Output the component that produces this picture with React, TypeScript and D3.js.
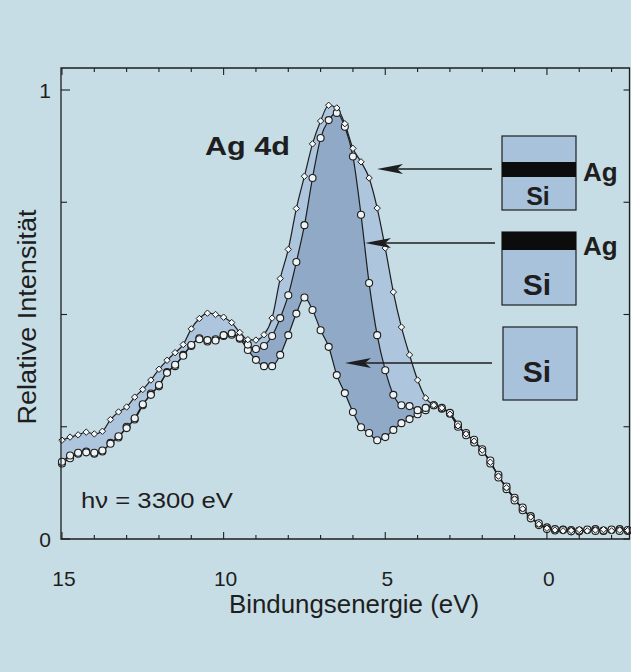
import React from 'react';
import * as d3 from 'd3';

// Binding energies (eV) of the sampled points
const energies = [
  15, 14.75, 14.5, 14.25, 14, 13.75, 13.5, 13.25, 13, 12.75, 12.5, 12.25, 12, 11.75, 11.5, 11.25,
  11, 10.75, 10.5, 10.25, 10, 9.75, 9.5, 9.25, 9, 8.75, 8.5, 8.25, 8, 7.75, 7.5, 7.25,
  7, 6.75, 6.5, 6.25, 6, 5.75, 5.5, 5.25, 5, 4.75, 4.5, 4.25, 4, 3.75, 3.5, 3.25,
  3, 2.75, 2.5, 2.25, 2, 1.75, 1.5, 1.25, 1, 0.75, 0.5, 0.25, 0, -0.25, -0.5, -0.75,
  -1, -1.25, -1.5, -1.75, -2, -2.25, -2.5,
];

// Ag buried under a cap layer (outer curve, diamonds)
const cappedAg = [
  0.220, 0.227, 0.232, 0.238, 0.234, 0.240, 0.266, 0.283, 0.294, 0.316, 0.333, 0.354, 0.378, 0.398, 0.415, 0.433,
  0.468, 0.491, 0.503, 0.500, 0.494, 0.482, 0.460, 0.444, 0.443, 0.455, 0.492, 0.580, 0.645, 0.736, 0.808, 0.880,
  0.931, 0.966, 0.960, 0.925, 0.870, 0.840, 0.804, 0.737, 0.648, 0.550, 0.472, 0.410, 0.354, 0.314, 0.298, 0.292,
  0.278, 0.252, 0.234, 0.218, 0.198, 0.171, 0.140, 0.114, 0.089, 0.067, 0.049, 0.033, 0.024, 0.020, 0.018, 0.019,
  0.021, 0.018, 0.020, 0.021, 0.018, 0.020, 0.019,
];

// Ag on top of Si (middle curve)
const surfaceAg = [
  0.172, 0.186, 0.192, 0.193, 0.192, 0.197, 0.212, 0.229, 0.247, 0.269, 0.300, 0.321, 0.343, 0.370, 0.388, 0.408,
  0.432, 0.445, 0.443, 0.442, 0.454, 0.458, 0.448, 0.433, 0.423, 0.430, 0.452, 0.492, 0.543, 0.617, 0.699, 0.804,
  0.893, 0.933, 0.949, 0.918, 0.852, 0.722, 0.570, 0.454, 0.376, 0.321, 0.298, 0.296, 0.287, 0.292, 0.298, 0.292,
  0.281, 0.255, 0.231, 0.221, 0.194, 0.175, 0.137, 0.117, 0.086, 0.070, 0.046, 0.035, 0.022, 0.022, 0.020, 0.017,
  0.019, 0.021, 0.018, 0.019, 0.021, 0.018, 0.020,
];

// Clean Si (lowest curve)
const silicon = [
  0.168, 0.180, 0.190, 0.195, 0.190, 0.195, 0.214, 0.226, 0.250, 0.266, 0.298, 0.324, 0.340, 0.372, 0.385, 0.410,
  0.430, 0.447, 0.440, 0.445, 0.452, 0.455, 0.446, 0.421, 0.399, 0.385, 0.385, 0.410, 0.454, 0.502, 0.538, 0.510,
  0.465, 0.428, 0.365, 0.325, 0.283, 0.249, 0.236, 0.220, 0.227, 0.243, 0.258, 0.267, 0.278, 0.287, 0.298, 0.290,
  0.279, 0.250, 0.236, 0.215, 0.200, 0.168, 0.143, 0.111, 0.092, 0.064, 0.051, 0.031, 0.026, 0.019, 0.021, 0.020,
  0.017, 0.020, 0.022, 0.018, 0.020, 0.022, 0.018,
];

const xMajorTicks = [15, 10, 5, 0];
const xTickLabels = ['15', '10', '5', '0'];
const yMajorTicks = [0, 1];
const yTickLabels = ['0', '1'];
const yMinorTicks = [0.25, 0.5, 0.75];

const FONT = '"Liberation Sans", Arial, Helvetica, sans-serif';
const BG = '#c6dde5';
const LIGHT = '#adc6dd';
const DARK = '#8fa9c7';
const BOX = '#a8c2dc';
const INK = '#1e1e1e';

export default function App() {
  const W = 631, H = 672;
  const left = 61, right = 630, top = 68, bottom = 539;
  const x = d3.scaleLinear().domain([15.03, -2.57]).range([left, right]);
  const y = d3.scaleLinear().domain([0, 1]).range([bottom, 90]);

  const idx = energies.map((_, i) => i);
  const line = (vals: number[]) =>
    d3.line<number>().x(i => x(energies[i])).y(i => y(vals[i])).curve(d3.curveMonotoneX)(idx) || '';
  const band = (hi: number[], lo: number[]) =>
    d3.area<number>().x(i => x(energies[i])).y0(i => y(lo[i])).y1(i => y(hi[i])).curve(d3.curveMonotoneX)(idx) || '';

  const minorX = d3.range(-2, 16, 1);

  const arrow = (yy: number, tipX: number, endX: number) => (
    <g>
      <line x1={tipX + 10} x2={endX} y1={yy} y2={yy} stroke={INK} strokeWidth={1.3} />
      <path d={`M${tipX},${yy} L${tipX + 26},${yy - 5} L${tipX + 20},${yy} L${tipX + 26},${yy + 5} Z`} fill={INK} />
    </g>
  );

  return (
    <svg width={W} height={H} style={{ position: 'absolute', left: 0, top: 0 }} fontFamily={FONT}>
      <rect x={0} y={0} width={W} height={H} fill={BG} />

      {/* filled bands */}
      <path d={band(cappedAg, surfaceAg)} fill={LIGHT} />
      <path d={band(surfaceAg, silicon)} fill={DARK} />

      {/* lines */}
      <path d={line(cappedAg)} fill="none" stroke={INK} strokeWidth={1.2} />
      <path d={line(surfaceAg)} fill="none" stroke={INK} strokeWidth={1.2} />
      <path d={line(silicon)} fill="none" stroke={INK} strokeWidth={1.2} />

      {/* markers */}
      {silicon.map((v, i) => (
        <circle key={'c' + i} cx={x(energies[i])} cy={y(v)} r={3.5} fill="#eef4f5" stroke={INK} strokeWidth={1.1} />
      ))}
      {surfaceAg.map((v, i) => (
        <circle key={'b' + i} cx={x(energies[i])} cy={y(v)} r={3.5} fill="#eef4f5" stroke={INK} strokeWidth={1.1} />
      ))}
      {cappedAg.map((v, i) => {
        const cx = x(energies[i]), cy = y(v), s = 3.2;
        return (
          <path key={'a' + i} d={`M${cx},${cy - s} L${cx + s},${cy} L${cx},${cy + s} L${cx - s},${cy} Z`}
            fill="#f4f8f8" stroke={INK} strokeWidth={1} />
        );
      })}

      {/* frame */}
      <path d={`M${left},${bottom} L${left},${top} L${right - 0.5},${top} L${right - 0.5},${bottom} Z`}
        fill="none" stroke={INK} strokeWidth={1.3} />
      {minorX.map(e => {
        const major = xMajorTicks.includes(e);
        return (
          <g key={'t' + e}>
            <line x1={x(e)} x2={x(e)} y1={bottom} y2={bottom - (major ? 7 : 4)} stroke={INK} strokeWidth={1.1} />
            <line x1={x(e)} x2={x(e)} y1={top} y2={top + (major ? 7 : 4)} stroke={INK} strokeWidth={1.1} />
          </g>
        );
      })}
      {yMajorTicks.concat(yMinorTicks).map(v => (
        <g key={'y' + v}>
          <line x1={left} x2={left + (yMajorTicks.includes(v) ? 9 : 6)} y1={y(v)} y2={y(v)} stroke={INK} strokeWidth={1.1} />
          <line x1={right - 0.5} x2={right - 0.5 - 6} y1={y(v)} y2={y(v)} stroke={INK} strokeWidth={1.1} />
        </g>
      ))}

      {/* tick labels */}
      {xMajorTicks.map((e, i) => (
        <text key={'xl' + e} x={x(e) + 2} y={586} fontSize={21} textAnchor="middle" fill={INK}>{xTickLabels[i]}</text>
      ))}
      {yMajorTicks.map((v, i) => (
        <text key={'yl' + v} x={51} y={y(v) + 7.5} fontSize={21} textAnchor="end" fill={INK}>{yTickLabels[i]}</text>
      ))}

      {/* axis titles */}
      <text x={354} y={613} fontSize={25} textAnchor="middle" fill={INK} textLength={250} lengthAdjust="spacingAndGlyphs">Bindungsenergie (eV)</text>
      <text transform="translate(36,317) rotate(-90)" fontSize={25} textAnchor="middle" fill={INK} textLength={215} lengthAdjust="spacingAndGlyphs">Relative Intensität</text>

      {/* annotations */}
      <text x={205} y={155} fontSize={25} fontWeight="bold" fill={INK} textLength={85} lengthAdjust="spacingAndGlyphs">Ag 4d</text>
      <text x={81} y={508} fontSize={22} fill={INK} textLength={152} lengthAdjust="spacingAndGlyphs">hν = 3300 eV</text>

      {/* arrows */}
      {arrow(169, 377, 492)}
      {arrow(243, 365, 495)}
      {arrow(363, 345, 492)}

      {/* inset 1: capped Ag */}
      <rect x={502} y={136} width={74} height={74} fill={BOX} stroke={INK} strokeWidth={1.2} />
      <rect x={502} y={162} width={74} height={15} fill="#0c0c0c" />
      <text x={538} y={205} fontSize={25} fontWeight="bold" textAnchor="middle" fill={INK}>Si</text>
      <text x={583} y={181} fontSize={26} fontWeight="bold" fill={INK}>Ag</text>

      {/* inset 2: Ag on Si */}
      <rect x={502} y={232} width={74} height={73} fill={BOX} stroke={INK} strokeWidth={1.2} />
      <rect x={502} y={232} width={74} height={18} fill="#0c0c0c" />
      <text x={537} y={295} fontSize={30} fontWeight="bold" textAnchor="middle" fill={INK}>Si</text>
      <text x={583} y={255} fontSize={26} fontWeight="bold" fill={INK}>Ag</text>

      {/* inset 3: Si */}
      <rect x={503} y={327} width={74} height={73} fill={BOX} stroke={INK} strokeWidth={1.2} />
      <text x={537} y={382} fontSize={30} fontWeight="bold" textAnchor="middle" fill={INK}>Si</text>
    </svg>
  );
}
